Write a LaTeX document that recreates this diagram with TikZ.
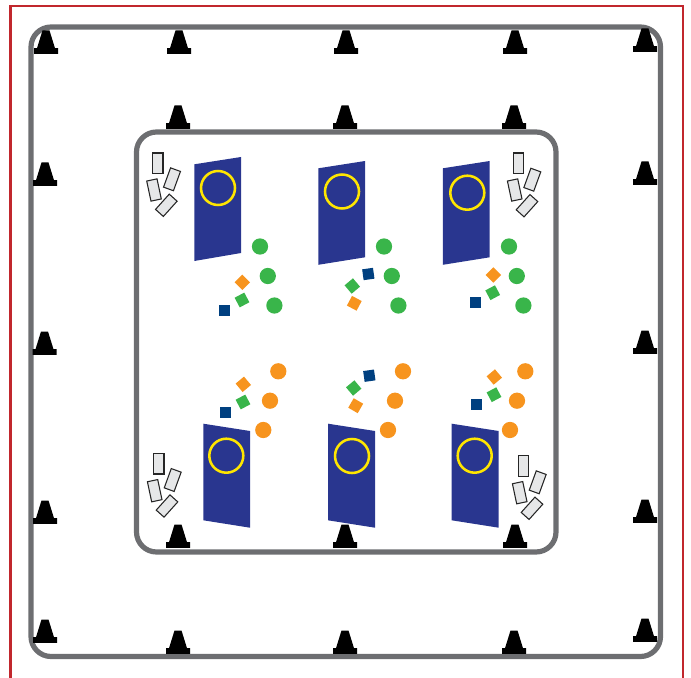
\documentclass[tikz,border=0pt]{standalone}
\definecolor{frameRed}{HTML}{C1272D}
\definecolor{wallGray}{HTML}{6D6E71}
\definecolor{doorBlue}{HTML}{29368F}
\definecolor{ringYellow}{HTML}{FFE600}
\definecolor{dotGreen}{HTML}{39B54A}
\definecolor{dotOrange}{HTML}{F7941E}
\definecolor{navySq}{HTML}{004080}
\definecolor{padGray}{HTML}{E6E7E8}
\tikzset{
  x=0.75pt,y=-0.75pt,
  wall/.style={draw=wallGray,line width=3.9pt,fill=none},
  door/.style={fill=doorBlue,draw=none},
  ring/.style={draw=ringYellow,line width=1.9pt,fill=none,circle,inner sep=0pt,minimum size=25.5pt},
  gdot/.style={fill=dotGreen,draw=none,circle,inner sep=0pt,minimum size=12.2pt},
  odot/.style={fill=dotOrange,draw=none,circle,inner sep=0pt,minimum size=12.2pt},
  chip/.style={draw=none,inner sep=0pt,minimum size=8.2pt},
  pad/.style={fill=padGray,draw=black!85,line width=0.8pt,inner sep=0pt,minimum width=7.9pt,minimum height=15.4pt},
  pics/cone/.style={code={
    \fill[black] (-12,0.8) -- (12,0.8) -- (12,-4.8) -- (9,-4.8) -- (3.5,-22.5) -- (-3.5,-22.5) -- (-9,-4.8) -- (-12,-4.8) -- cycle;
  }},
}
\begin{document}
\begin{tikzpicture}
\useasboundingbox (0,0) rectangle (691,677);
% red frame
\draw[frameRed,line width=1.7pt] (10.5,690) -- (10.5,6) -- (683,6) -- (683,690);
% walls
\draw[wall,rounded corners=15pt] (31,27) rectangle (660.5,656.5);
\draw[wall,rounded corners=15pt] (136.5,132) rectangle (556,552);
% cones
\foreach \cx/\cy in {46/53,179/53,346/53,515/53,645/51,
  178/128,345/128,514/128,
  45/185,44.5/354,45/523,45/642,
  645/184,645/353,645/522,645/641,
  178/653,345/653,514/653,
  178/547,345/547,515/547}
  \pic at (\cx,\cy) {cone};
% doors
\fill[door] (194.3,164.3) -- (241,157) -- (241,253) -- (194.3,261) -- cycle;
\fill[door] (318.3,168.3) -- (365,161) -- (365,257.3) -- (318.3,264.8) -- cycle;
\fill[door] (442.8,168.3) -- (489.7,161) -- (489.7,257.3) -- (442.8,264.8) -- cycle;
\fill[door] (203.3,423.7) -- (250,431) -- (250,527.7) -- (203.3,520.3) -- cycle;
\fill[door] (328,423.7) -- (375,431) -- (375,527.7) -- (328,520.3) -- cycle;
\fill[door] (451.7,423.7) -- (498.7,431) -- (498.7,527.7) -- (451.7,520.3) -- cycle;
% rings
\node[ring] (r1) at (218,188) {};
\node[ring] (r2) at (342,191.5) {};
\node[ring] (r3) at (467.3,192.7) {};
\node[ring] (r4) at (226.3,455.7) {};
\node[ring] (r5) at (352,456) {};
\node[ring] (r6) at (474.7,455.7) {};
% green dots
\foreach \i/\dx in {1/0,2/124,3/249}{
  \node[gdot] (ga\i) at (260+\dx,246.5) {};
  \node[gdot] (gb\i) at (267.8+\dx,276) {};
  \node[gdot] (gc\i) at (274.4+\dx,305.5) {};
}
% orange dots
\node[odot] (oa1) at (278.3,371.3) {};
\node[odot] (ob1) at (270,400.7) {};
\node[odot] (oc1) at (263.3,430) {};
\node[odot] (oa2) at (403,371.3) {};
\node[odot] (ob2) at (395,400.7) {};
\node[odot] (oc2) at (388,430) {};
\node[odot] (oa3) at (525.3,371.3) {};
\node[odot] (ob3) at (517,400.7) {};
\node[odot] (oc3) at (510,430) {};
% chips
\node[chip,fill=dotOrange,rotate=45] (c1) at (242.3,282.3) {};
\node[chip,fill=dotGreen,rotate=28] (c2) at (242,300) {};
\node[chip,fill=navySq] (c3) at (224.7,310.3) {};
\node[chip,fill=navySq,rotate=8] (c4) at (368.3,274) {};
\node[chip,fill=dotGreen,rotate=40] (c5) at (352.3,286) {};
\node[chip,fill=dotOrange,rotate=-28] (c6) at (354.3,303.3) {};
\node[chip,fill=dotOrange,rotate=45] (c7) at (493.3,275) {};
\node[chip,fill=dotGreen,rotate=28] (c8) at (492.7,292.7) {};
\node[chip,fill=navySq] (c9) at (475.3,302.7) {};
\node[chip,fill=dotOrange,rotate=40] (c10) at (243.3,384.3) {};
\node[chip,fill=dotGreen,rotate=28] (c11) at (243,402) {};
\node[chip,fill=navySq] (c12) at (225.7,412.3) {};
\node[chip,fill=navySq,rotate=8] (c13) at (369.3,375.7) {};
\node[chip,fill=dotGreen,rotate=40] (c14) at (353.7,388) {};
\node[chip,fill=dotOrange,rotate=-30] (c15) at (355.7,405.7) {};
\node[chip,fill=dotOrange,rotate=40] (c16) at (494.3,377) {};
\node[chip,fill=dotGreen,rotate=28] (c17) at (494,394.7) {};
\node[chip,fill=navySq] (c18) at (476.3,404.7) {};
% pads
\foreach \g/\ax/\ay/\bx/\by/\cx/\cy/\dx/\dy in {
  a/157.7/163.3/172/179.3/154/190/166.3/205.3,
  b/518.3/163.3/532.3/179.7/514.7/190/527/205.7,
  c/158.7/463.7/172.7/480/154.7/490.7/167/506,
  d/523.3/466/537.7/482.3/519.7/492.7/532/508.3}{
  \node[pad] (p\g1) at (\ax,\ay) {};
  \node[pad,rotate=-20] (p\g2) at (\bx,\by) {};
  \node[pad,rotate=12] (p\g3) at (\cx,\cy) {};
  \node[pad,rotate=-42] (p\g4) at (\dx,\dy) {};
}
\end{tikzpicture}
\end{document}
